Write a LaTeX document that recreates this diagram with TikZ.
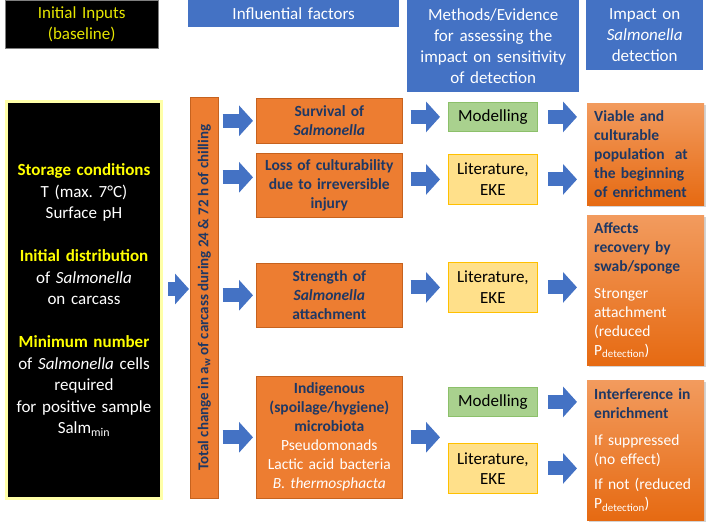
\documentclass[tikz,border=0pt]{standalone}
\usepackage{fontspec}
\setmainfont{Carlito}
\usepackage{tikz}
\usetikzlibrary{arrows.meta}
\usetikzlibrary{shadows}
\usepackage{xcolor}

\definecolor{hblue}{HTML}{4472C4}
\definecolor{orng}{HTML}{ED7D31}
\definecolor{orngdark}{HTML}{C6621E}
\definecolor{navy}{HTML}{1F3864}
\definecolor{modgreen}{HTML}{A9D18E}
\definecolor{modline}{HTML}{8CC06A}
\definecolor{litfill}{HTML}{FFE08A}
\definecolor{litline}{HTML}{FFC000}
\definecolor{imptop}{HTML}{F29B5E}
\definecolor{impbot}{HTML}{E66A12}
\definecolor{glow}{HTML}{FFFFA8}
\definecolor{ylw}{HTML}{FFFF00}
\definecolor{hylw}{HTML}{E6E600}

\tikzset{
  hdrbox/.style={anchor=north west, fill=hblue, text=white, align=center,
    inner xsep=2pt, inner ysep=1pt, font=\fontsize{17}{21}\selectfont},
  inbox/.style={anchor=north west, fill=black, align=center, inner xsep=3pt},
  midbox/.style={anchor=north west, fill=orng, draw=orngdark, line width=.6pt,
    minimum width=146pt, text width=140pt, inner xsep=3pt, align=center,
    text=navy, font=\bfseries\fontsize{15.5}{19}\selectfont},
  methbox/.style={anchor=north west, minimum width=89pt, text width=85pt,
    inner xsep=2pt, align=center, line width=.8pt, font=\fontsize{17}{20.5}\selectfont},
  modbox/.style={methbox, fill=modgreen, draw=modline, minimum height=29pt},
  litbox/.style={methbox, fill=litfill, draw=litline, minimum height=50pt},
  impbox/.style={anchor=north west, top color=imptop, bottom color=impbot,
    minimum width=117pt, text width=103pt, inner xsep=7pt, align=left,
    text=navy, font=\bfseries\fontsize{15.5}{19}\selectfont,
    drop shadow={opacity=.35, shadow xshift=2pt, shadow yshift=-2pt}},
  blockarr/.style={draw=hblue, line width=14pt, -{Triangle[width=30pt,length=14pt]}}
}

\begin{document}
\begin{tikzpicture}[x=1pt, y=-1pt]
\useasboundingbox (0,0) rectangle (709,524);

% column headers
\node[inbox, draw={rgb,255:red,127;green,127;blue,127}, text=hylw, minimum width=153pt,
  minimum height=48pt, text width=147pt, font=\fontsize{17}{21}\selectfont] (hin) at (5,0)
  {Initial Inputs\\(baseline)};
\node[hdrbox, minimum width=211pt, minimum height=27pt, text width=207pt] (hfac) at (188,0)
  {Influential factors};
\node[hdrbox, minimum width=172pt, minimum height=92pt, text width=168pt] (hmeth) at (407,0)
  {Methods/Evidence\\for assessing the\\impact on sensitivity\\of detection};
\node[hdrbox, minimum width=117pt, minimum height=70pt, text width=113pt] (himp) at (586,0)
  {Impact on\\\textit{Salmonella}\\detection};

% baseline inputs
\node[inbox, draw=glow, line width=3pt, text=white, minimum width=155pt, minimum height=397pt,
  text width=149pt, font=\fontsize{17}{21.5}\selectfont] (inputs) at (5,100)
  {{\bfseries\color{ylw}Storage conditions}\\T (max.\ 7°C)\\Surface pH\\[21.5pt]
   {\bfseries\color{ylw}Initial distribution}\\of \textit{Salmonella}\\on carcass\\[21.5pt]
   {\bfseries\color{ylw}Minimum number}\\of \textit{Salmonella} cells\\required\\for positive sample\\
   Salm\textsubscript{min}};

% chilling bar
\node[anchor=north west, fill=orng, draw=orngdark, line width=.6pt, minimum width=28pt,
  minimum height=401pt, inner sep=0pt, text=navy, font=\bfseries\fontsize{15}{17}\selectfont]
  (bar) at (190,97)
  {\rotatebox{90}{Total change in a\textsubscript{w} of carcass during 24 \& 72 h of chilling}};

% influential factors
\node[midbox, minimum height=45pt] (surv) at (256,98) {Survival of\\\textit{Salmonella}};
\node[midbox, minimum height=64pt] (loss) at (256,153)
  {Loss of culturability\\due to irreversible\\injury};
\node[midbox, minimum height=64pt] (strength) at (256,263)
  {Strength of\\\textit{Salmonella}\\attachment};
\node[midbox, minimum height=122pt] (indig) at (256,376)
  {Indigenous\\(spoilage/hygiene)\\microbiota\\
   {\mdseries\color{white}Pseudomonads\\Lactic acid bacteria\\\textit{B. thermosphacta}}};

% methods / evidence
\node[modbox] (mod1) at (448,102) {Modelling};
\node[litbox] (lit1) at (448,154) {Literature,\\EKE};
\node[litbox] (lit2) at (448,262) {Literature,\\EKE};
\node[modbox] (mod2) at (448,387) {Modelling};
\node[litbox] (lit3) at (448,443) {Literature,\\EKE};

% impact on detection
\node[impbox, minimum height=102pt] (imp1) at (587,103)
  {Viable and\\culturable\\population~ at\\the beginning\\of enrichment};
\node[impbox, minimum height=150pt] (imp2) at (587,215)
  {Affects\\recovery by\\swab/sponge\\[8pt]
   {\mdseries\color{white}Stronger\\attachment\\(reduced\\P\textsubscript{detection})}};
\node[impbox, minimum height=140pt] (imp3) at (587,380)
  {Interference in\\enrichment\\[8pt]
   {\mdseries\color{white}If suppressed\\(no effect)\\[6pt]If not (reduced\\P\textsubscript{detection})}};

% arrows
\draw[blockarr, shorten <=5pt, shorten >=1pt] ([yshift=11pt]inputs.east) -- ([yshift=11pt]inputs.east -| bar.west);

\draw[blockarr, shorten <=4pt, shorten >=3pt] (bar.east |- surv.west) -- (surv.west);
\draw[blockarr, shorten <=4pt, shorten >=3pt] (bar.east |- loss.west) ++(0,-8) -- ([yshift=8pt]loss.west);
\draw[blockarr, shorten <=4pt, shorten >=3pt] (bar.east |- strength.west) -- (strength.west);
\draw[blockarr, shorten <=4pt, shorten >=3pt] (bar.east |- indig.west) -- (indig.west);

\draw[blockarr, shorten <=8pt, shorten >=8pt] (surv.east |- mod1.west) -- (mod1.west);
\draw[blockarr, shorten <=8pt, shorten >=8pt] (loss.east |- lit1.west) -- (lit1.west);
\draw[blockarr, shorten <=8pt, shorten >=8pt] (strength.east |- lit2.west) -- (lit2.west);
\draw[blockarr, shorten <=8pt, shorten >=8pt] (indig.east) -- (indig.east -| lit3.west);

\draw[blockarr, shorten <=10pt, shorten >=10pt] (mod1.east) -- (mod1.east -| imp1.west);
\draw[blockarr, shorten <=10pt, shorten >=10pt] (lit1.east) -- (lit1.east -| imp1.west);
\draw[blockarr, shorten <=10pt, shorten >=10pt] (lit2.east) -- (lit2.east -| imp2.west);
\draw[blockarr, shorten <=10pt, shorten >=10pt] (mod2.east) -- (mod2.east -| imp3.west);
\draw[blockarr, shorten <=10pt, shorten >=10pt] (lit3.east) -- (lit3.east -| imp3.west);
\end{tikzpicture}
\end{document}
